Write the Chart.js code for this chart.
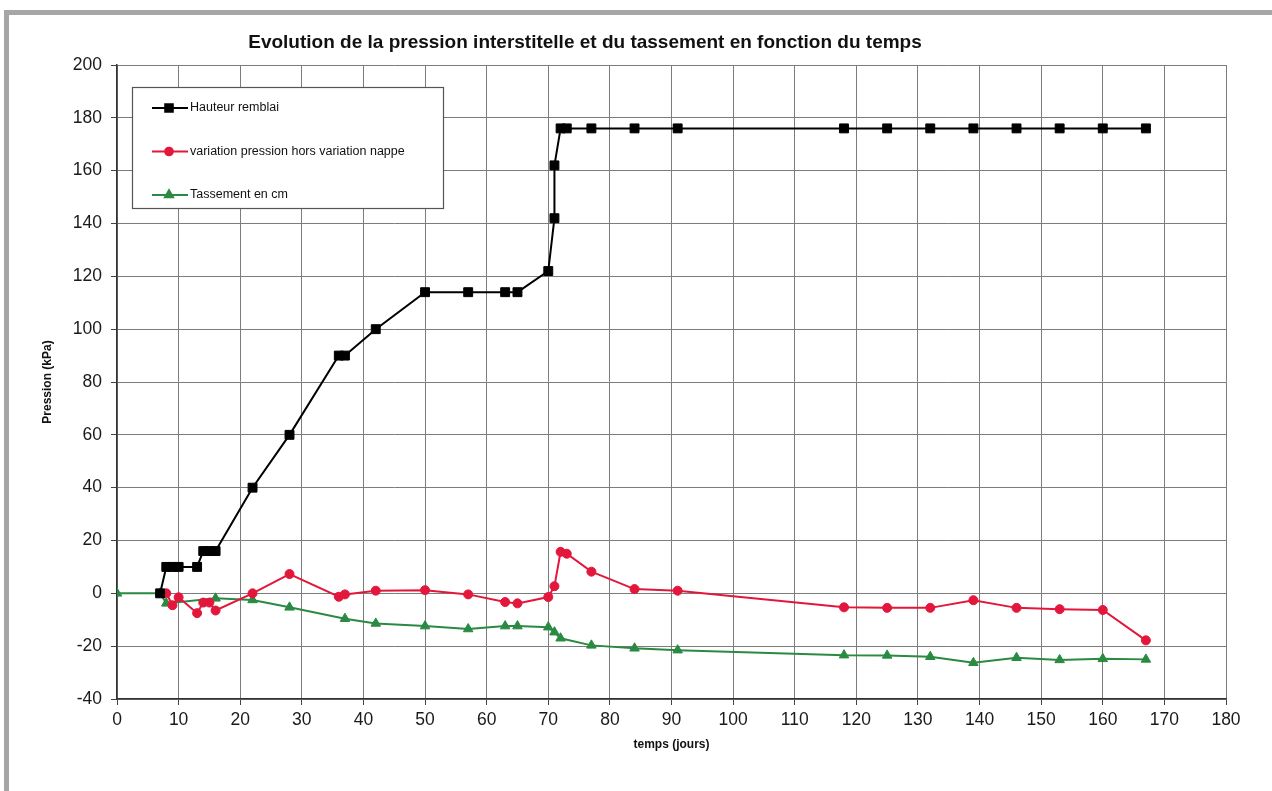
<!DOCTYPE html>
<html lang="fr">
<head>
<meta charset="utf-8">
<title>Evolution de la pression interstitelle</title>
<script src="https://cdn.jsdelivr.net/npm/chart.js@4.4.1/dist/chart.umd.min.js"></script>
<style>
  html, body { margin: 0; padding: 0; background: #fff; }
  #cadre { position: absolute; left: 4px; top: 10px; width: 1268px; height: 781px;
           border-top: 5px solid #a6a6a6; border-left: 5px solid #a6a6a6; box-sizing: border-box; }
  #graphe { position: absolute; left: 0; top: 0; }
</style>
</head>
<body>
<div id="cadre"></div>
<canvas id="graphe" width="1272" height="791"></canvas>
<script>
// ─── Données ──────────────────────────────────────────────────────────────────
const TITRE = 'Evolution de la pression interstitelle et du tassement en fonction du temps';

const joursRemblai   = [7, 8, 9, 10, 13, 14, 15, 16, 22, 28, 36, 37, 42, 50, 57, 63, 65, 70, 71, 71, 72, 73, 77, 84, 91, 118, 125, 132, 139, 146, 153, 160, 167];
const hauteurRemblai = [0, 10, 10, 10, 10, 16, 16, 16, 40, 60, 90, 90, 100, 114, 114, 114, 114, 122, 142, 162, 176, 176, 176, 176, 176, 176, 176, 176, 176, 176, 176, 176, 176];

const joursPression     = [8, 9, 10, 13, 14, 15, 16, 22, 28, 36, 37, 42, 50, 57, 63, 65, 70, 71, 72, 73, 77, 84, 91, 118, 125, 132, 139, 146, 153, 160, 167];
const variationPression = [0, -4.5, -1.5, -7.5, -3.5, -3.5, -6.5, 0, 7.3, -1.3, -0.4, 1, 1.2, -0.4, -3.3, -3.8, -1.4, 2.7, 15.7, 15, 8.2, 1.6, 1, -5.3, -5.5, -5.5, -2.6, -5.5, -6, -6.3, -17.8];

const joursTassement = [0, 7, 8, 16, 22, 28, 37, 42, 50, 57, 63, 65, 70, 71, 72, 77, 84, 91, 118, 125, 132, 139, 146, 153, 160, 167];
const tassement      = [0, 0, -3.8, -1.9, -2.5, -5.3, -9.6, -11.4, -12.4, -13.5, -12.4, -12.4, -12.8, -14.7, -17, -19.7, -20.8, -21.5, -23.4, -23.5, -24, -26.3, -24.4, -25.2, -24.8, -25];

const series = [
  { nom: 'Hauteur remblai',                         x: joursRemblai,   y: hauteurRemblai,    couleur: '#000000', style: 'rect',     rayon: 6.3 },
  { nom: 'variation pression hors variation nappe', x: joursPression,  y: variationPression, couleur: '#e3173c', style: 'circle',   rayon: 4.5 },
  { nom: 'Tassement en cm',                         x: joursTassement, y: tassement,         couleur: '#2a8a42', style: 'triangle', rayon: 5.5 },
];

const POLICE = '"Liberation Sans", Arial, sans-serif';

// ─── Plugins : titre et légende encadrée ──────────────────────────────────────
const titrePlugin = {
  id: 'titre',
  afterDraw(chart) {
    const ctx = chart.ctx;
    ctx.save();
    ctx.font = 'bold 19px ' + POLICE;
    ctx.fillStyle = '#111';
    ctx.textAlign = 'center';
    ctx.textBaseline = 'middle';
    ctx.fillText(TITRE, 585, 43);
    ctx.restore();
  },
};

const legendePlugin = {
  id: 'legendeEncadree',
  afterDraw(chart) {
    const ctx = chart.ctx;
    const box = { x: 132, y: 87, w: 311, h: 121 };
    ctx.save();
    ctx.fillStyle = '#fff';
    ctx.fillRect(box.x, box.y, box.w, box.h);
    ctx.strokeStyle = '#555';
    ctx.lineWidth = 1.2;
    ctx.strokeRect(box.x + 0.5, box.y + 0.5, box.w, box.h);
    ctx.font = '12.5px ' + POLICE;
    ctx.textBaseline = 'middle';
    chart.data.datasets.forEach((ds, i) => {
      const yy = 108 + i * 43.5;
      ctx.strokeStyle = ds.borderColor;
      ctx.lineWidth = 2;
      ctx.beginPath();
      ctx.moveTo(152, yy);
      ctx.lineTo(188, yy);
      ctx.stroke();
      ctx.fillStyle = ds.pointBackgroundColor;
      ctx.strokeStyle = ds.pointBorderColor;
      Chart.helpers.drawPoint(ctx, {
        pointStyle: ds.pointStyle, radius: ds.pointRadius * 0.85, borderWidth: 1,
      }, 169, yy);
      ctx.fillStyle = '#111';
      ctx.fillText(ds.label, 190, yy);
    });
    ctx.restore();
  },
};

// ─── Graphique ────────────────────────────────────────────────────────────────
const ctx = document.getElementById('graphe').getContext('2d');

new Chart(ctx, {
  type: 'line',
  data: {
    datasets: series.map(s => ({
      label: s.nom,
      data: s.x.map((j, k) => ({ x: j, y: s.y[k] })),
      borderColor: s.couleur,
      backgroundColor: s.couleur,
      pointBackgroundColor: s.couleur,
      pointBorderColor: s.couleur,
      pointStyle: s.style,
      pointRadius: s.rayon,
      pointBorderWidth: 1,
      borderWidth: 2,
      tension: 0,
      fill: false,
    })),
  },
  options: {
    responsive: false,
    animation: false,
    layout: { padding: { left: 0, right: 46, top: 65, bottom: 0 } },
    plugins: {
      legend: { display: false },
      title: { display: false },
      tooltip: { enabled: false },
    },
    scales: {
      x: {
        type: 'linear',
        min: 0, max: 180,
        afterFit(scale) { scale.height = 92; },
        ticks: {
          stepSize: 10,
          padding: 5,
          color: '#1a1a1a',
          font: { family: POLICE, size: 17.5 },
        },
        grid: { color: '#7c7c7c', lineWidth: 1, tickLength: 6, tickColor: '#444' },
        border: { color: '#333', width: 1.5 },
        title: {
          display: true,
          text: 'temps (jours)',
          color: '#111',
          font: { family: POLICE, size: 12, weight: 'bold' },
          padding: { top: 0, bottom: 39 },
        },
      },
      y: {
        min: -40, max: 200,
        afterFit(scale) { scale.width = 117; },
        ticks: {
          stepSize: 20,
          padding: 9,
          color: '#1a1a1a',
          font: { family: POLICE, size: 17.5 },
        },
        grid: { color: '#7c7c7c', lineWidth: 1, tickLength: 6, tickColor: '#444' },
        border: { color: '#333', width: 1.5 },
        title: {
          display: true,
          text: 'Pression (kPa)',
          color: '#111',
          font: { family: POLICE, size: 12, weight: 'bold' },
          padding: { top: 40, bottom: 0 },
        },
      },
    },
  },
  plugins: [titrePlugin, legendePlugin],
});
</script>
</body>
</html>
